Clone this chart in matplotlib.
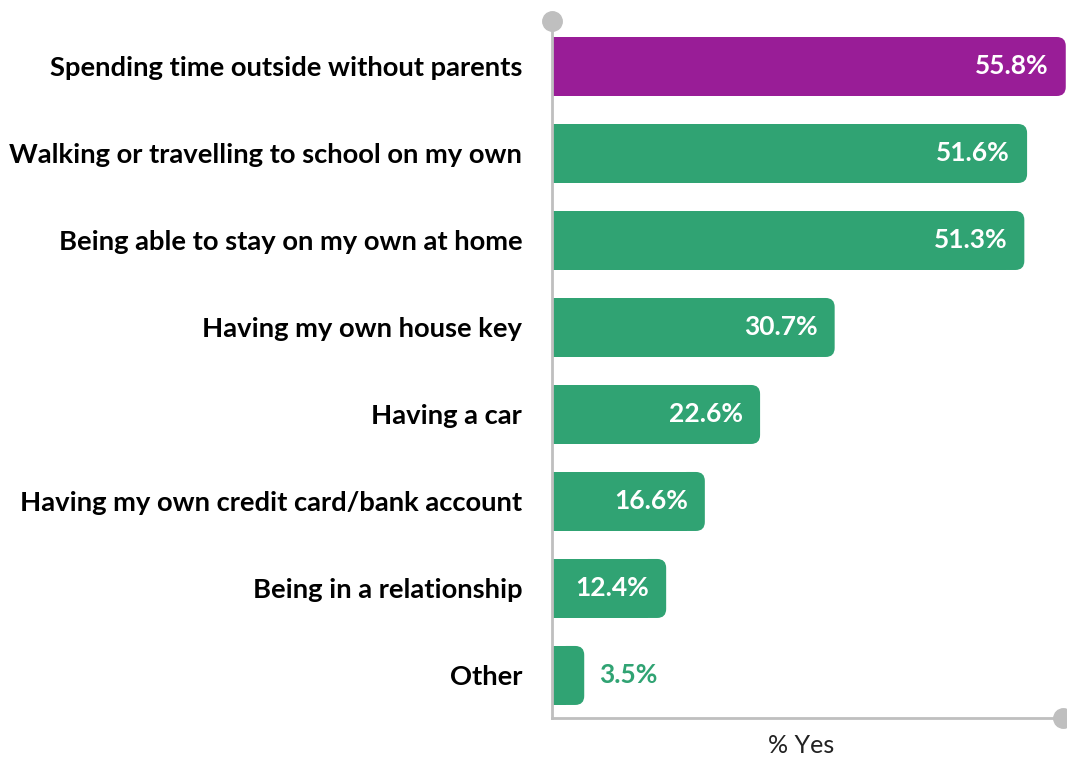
import matplotlib.pyplot as plt
from matplotlib.patches import Rectangle, FancyBboxPatch

categories = [
    "Spending time outside without parents",
    "Walking or travelling to school on my own",
    "Being able to stay on my own at home",
    "Having my own house key",
    "Having a car",
    "Having my own credit card/bank account",
    "Being in a relationship",
    "Other",
]
values = [55.8, 51.6, 51.3, 30.7, 22.6, 16.6, 12.4, 3.5]
highlight = [True, False, False, False, False, False, False, False]

PURPLE = "#991D97"
GREEN = "#30A373"
AXIS_GREY = "#BFBFBF"

plt.rcParams["font.family"] = ["Lato", "DejaVu Sans"]

fig = plt.figure(figsize=(10.67, 7.58), dpi=100)
ax = fig.add_axes([552 / 1067, 40 / 758, 511 / 1067, 697 / 758])

xmax = 55.5
ax.set_xlim(0, xmax)
ax.set_ylim(7.489, -0.523)

# pixel sizes -> data units, used for the rounded bar ends
px_x = xmax / 511
px_y = (7.489 + 0.523) / 697
radius = 9 * px_x
bar_h = 59 * px_y

for i, (v, hl) in enumerate(zip(values, highlight)):
    color = PURPLE if hl else GREEN
    y0 = i - bar_h / 2
    body = max(v - 2 * radius, 0)
    ax.add_patch(Rectangle((0, y0), body, bar_h, facecolor=color,
                           edgecolor="none", clip_on=False))
    start = max(v - 3 * radius, 0)
    ax.add_patch(FancyBboxPatch((start, y0), v - start, bar_h,
                                boxstyle="round,pad=0,rounding_size=%f" % radius,
                                mutation_aspect=px_y / px_x,
                                facecolor=color, edgecolor="none", clip_on=False))
    label = "%.1f%%" % v
    if v > 8:
        ax.text(v - 17 * px_x, i, label, ha="right", va="center",
                color="white", fontsize=19, fontweight="bold")
    else:
        ax.text(v + 15 * px_x, i, label, ha="left", va="center",
                color=GREEN, fontsize=19, fontweight="bold")

ax.set_yticks(range(len(categories)))
ax.set_yticklabels(categories, fontsize=19.7, fontweight="bold", color="black")
ax.tick_params(axis="y", length=0, pad=21.5)
ax.set_xticks([])
ax.set_xlabel("% Yes", fontsize=18, color="#222222")
ax.xaxis.set_label_coords(0.488, -0.04, transform=ax.transAxes)
ax.xaxis.label.set_va("center")

for side in ["top", "right"]:
    ax.spines[side].set_visible(False)
for side in ["left", "bottom"]:
    ax.spines[side].set_color(AXIS_GREY)
    ax.spines[side].set_linewidth(2)

# round caps at the ends of both axes
ax.plot([0], [-0.523], "o", color=AXIS_GREY, markersize=14, clip_on=False)
ax.plot([xmax], [7.489], "o", color=AXIS_GREY, markersize=14, clip_on=False)

fig.savefig("out.png", dpi=100)
